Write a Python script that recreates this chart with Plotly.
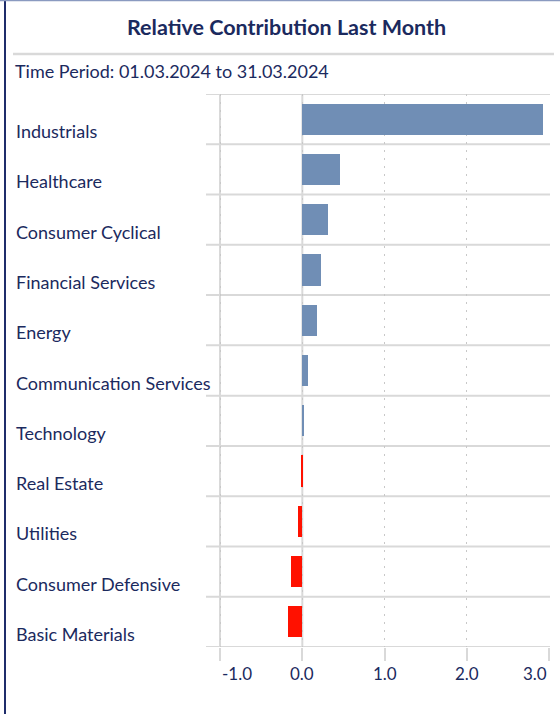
import plotly.graph_objects as go

categories = ["Industrials", "Healthcare", "Consumer Cyclical", "Financial Services", "Energy",
              "Communication Services", "Technology", "Real Estate", "Utilities",
              "Consumer Defensive", "Basic Materials"]
values = [2.92, 0.46, 0.31, 0.23, 0.18, 0.07, 0.02, -0.01, -0.05, -0.14, -0.17]
tick_vals = [-1, 0, 1, 2, 3]
tick_text = ["-1.0", "0.0", "1.0", "2.0", "3.0"]

W, H = 560, 714
L, R, T, B = 206, 10, 94, 67
NAVY = "#1b2a5e"
GRID = "#d9d9d9"
FONT = "Lato"

colors = ["#708eb5" if v >= 0 else "#ff1100" for v in values]
ypos = list(range(len(categories)))

fig = go.Figure()
fig.add_trace(go.Bar(x=values, y=ypos, orientation="h", marker=dict(color=colors, line=dict(width=0)),
                     width=0.62, hoverinfo="skip"))

shapes = []
for i in range(len(categories) + 1):
    shapes.append(dict(type="line", xref="paper", yref="y", x0=0, x1=1, y0=i - 0.5, y1=i - 0.5,
                       line=dict(color=GRID, width=2), layer="below"))
for xv in [-1, 0]:
    shapes.append(dict(type="line", xref="x", yref="paper", x0=xv, x1=xv, y0=0, y1=1,
                       line=dict(color=GRID, width=2), layer="below"))
pw = W - L - R
ph = H - T - B
def px(xp):
    return (xp - L) / pw
def py(yp):
    return (H - B - yp) / ph
shapes.append(dict(type="line", xref="paper", yref="paper", x0=px(5), x1=px(5), y0=py(0), y1=py(714),
                   line=dict(color="#1f2d6b", width=2)))
shapes.append(dict(type="line", xref="paper", yref="paper", x0=px(0), x1=px(560), y0=py(0.5), y1=py(0.5),
                   line=dict(color="#8a9ac0", width=1.5)))
shapes.append(dict(type="line", xref="paper", yref="paper", x0=px(13), x1=px(554), y0=py(54), y1=py(54),
                   line=dict(color=GRID, width=2.5)))

annotations = []
for i, c in enumerate(categories):
    annotations.append(dict(text=c, xref="paper", yref="y", x=px(14), y=i, yshift=-12,
                            xanchor="left", yanchor="middle", showarrow=False,
                            font=dict(family=FONT, size=18, color=NAVY)))
annotations.append(dict(text="<b>Relative Contribution Last Month</b>", xref="paper", yref="paper",
                        x=px(286), y=py(27), xanchor="center", yanchor="middle", showarrow=False,
                        font=dict(family=FONT, size=21.5, color=NAVY)))
annotations.append(dict(text="Time Period: 01.03.2024 to 31.03.2024", xref="paper", yref="paper",
                        x=px(13), y=py(71), xanchor="left", yanchor="middle", showarrow=False,
                        font=dict(family=FONT, size=18, color=NAVY)))
# x tick labels (edge labels kept inside the plot, as in the reference)
for k, (tv, tt) in enumerate(zip(tick_vals, tick_text)):
    anchor = "left" if k == 0 else ("right" if k == len(tick_vals) - 1 else "center")
    annotations.append(dict(text=tt, xref="x", yref="paper", x=tv, y=py(673),
                            xanchor=anchor, yanchor="middle", showarrow=False,
                            font=dict(family=FONT, size=17, color=NAVY)))

x0 = -1 - 14 * 4 / 329.3
x1 = 3 + 0.7 * 4 / 329.3

fig.update_layout(
    width=W, height=H, margin=dict(l=L, r=R, t=T, b=B),
    paper_bgcolor="white", plot_bgcolor="white",
    showlegend=False, bargap=0,
    shapes=shapes, annotations=annotations,
    xaxis=dict(range=[x0, x1], tickvals=tick_vals, showticklabels=False, showgrid=True,
               gridcolor="#c8c8c8", gridwidth=1, griddash="2px,6px", zeroline=False,
               ticks="outside", ticklen=13, tickwidth=2, tickcolor=GRID, showline=False,
               fixedrange=True),
    yaxis=dict(range=[len(categories) - 0.5, -0.5], showticklabels=False, showgrid=False,
               zeroline=False, showline=False, ticks="", fixedrange=True),
)

fig.write_html("out.html")
